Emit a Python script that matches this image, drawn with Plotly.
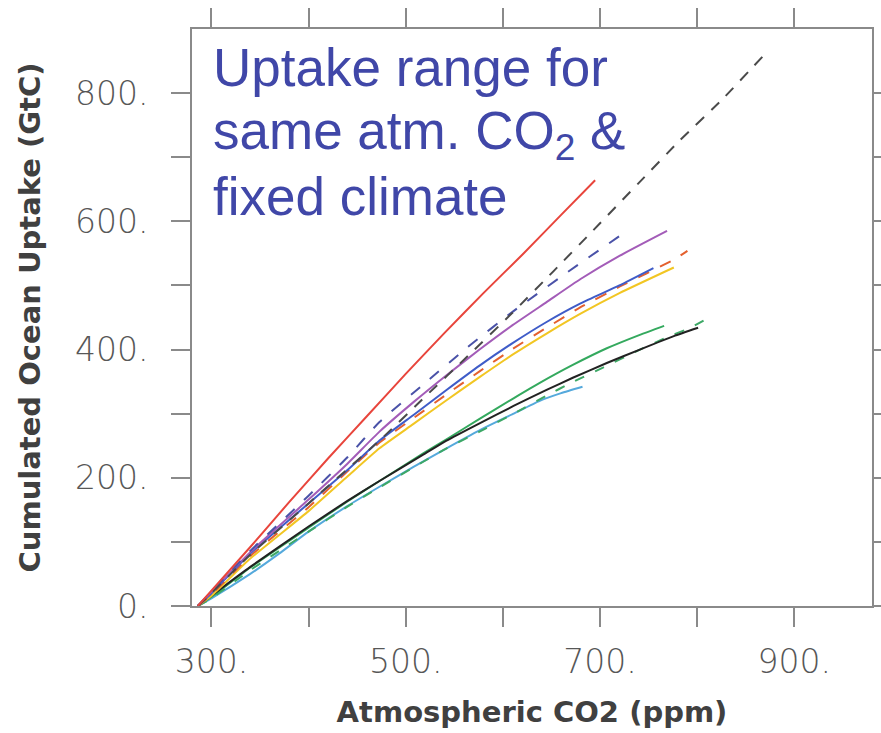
import plotly.graph_objects as go

# Atmospheric CO2 (ppm) vs cumulated ocean uptake (GtC) for each model run

red_co2 = [286, 300, 340, 380, 420, 460, 500, 540, 580, 620, 660, 695]
red_uptake = [0, 24, 92, 162, 230, 296, 362, 426, 488, 548, 610, 664]

blackdash_co2 = [286, 300, 340, 400, 473, 521, 564, 609, 652, 693, 740, 782, 827, 868]
blackdash_uptake = [0, 20, 80, 160, 258, 328, 390, 456, 522, 586, 660, 726, 792, 858]

navydash_co2 = [286, 300, 340, 400, 440, 473, 520, 564, 611, 664, 720]
navydash_uptake = [0, 22, 86, 172, 232, 287, 348, 404, 460, 518, 577]

purple_co2 = [286, 300, 340, 400, 440, 473, 508, 542, 576, 610, 645, 680, 720, 769]
purple_uptake = [0, 22, 84, 166, 222, 272, 318, 360, 400, 438, 474, 510, 546, 585]

blue_co2 = [286, 300, 340, 400, 440, 473, 508, 542, 576, 610, 645, 680, 720, 755]
blue_uptake = [0, 20, 82, 160, 212, 258, 298, 337, 375, 410, 443, 472, 500, 527]

yellow_co2 = [286, 300, 340, 400, 440, 473, 508, 542, 576, 610, 645, 680, 720, 776]
yellow_uptake = [0, 16, 74, 148, 202, 246, 284, 321, 357, 392, 425, 456, 488, 528]

orangedash_co2 = [286, 300, 340, 400, 440, 473, 508, 542, 576, 610, 645, 680, 720, 777, 790]
orangedash_uptake = [0, 18, 78, 154, 210, 255, 293, 330, 366, 401, 434, 466, 498, 541, 554]

green_co2 = [286, 300, 340, 400, 440, 473, 518, 542, 576, 611, 638, 672, 707, 741, 766]
green_uptake = [0, 14, 60, 122, 163, 195, 238, 260, 292, 324, 348, 376, 402, 423, 437]

black_co2 = [286, 300, 340, 400, 440, 473, 518, 542, 576, 611, 645, 672, 707, 741, 776, 801]
black_uptake = [0, 16, 61, 124, 164, 195, 236, 258, 285, 312, 337, 356, 379, 400, 421, 434]

greendash_co2 = [286, 300, 340, 400, 440, 473, 518, 542, 576, 616, 645, 670, 702, 740, 770, 793, 810]
greendash_uptake = [0, 12, 56, 116, 155, 185, 225, 246, 272, 304, 328, 348, 371, 399, 420, 434, 448]

cyan_co2 = [286, 300, 340, 370, 400, 439, 473, 508, 542, 576, 611, 638, 660, 682]
cyan_uptake = [0, 12, 50, 82, 116, 155, 186, 217, 246, 274, 300, 320, 332, 342]

# labelled ticks every 200, unlabelled ticks in between
x_ticks = [300, 500, 700, 900]
x_ticktext = ["300.", "500.", "700.", "900."]
x_minor = [400, 600, 800]
y_ticks = [0, 200, 400, 600, 800]
y_ticktext = ["0.", "200.", "400.", "600.", "800."]
y_minor = [100, 300, 500, 700]

note_lines = ["Uptake range for", "same atm. CO<sub>2</sub> &amp;", "fixed climate"]

series = [
    (cyan_co2, cyan_uptake, "#55A9DC", "solid"),
    (greendash_co2, greendash_uptake, "#3DA866", "10px,12px"),
    (green_co2, green_uptake, "#34A95E", "solid"),
    (black_co2, black_uptake, "#222222", "solid"),
    (yellow_co2, yellow_uptake, "#F2C623", "solid"),
    (orangedash_co2, orangedash_uptake, "#E4602E", "12px,12px"),
    (blue_co2, blue_uptake, "#3F5CC8", "solid"),
    (purple_co2, purple_uptake, "#A35CB8", "solid"),
    (navydash_co2, navydash_uptake, "#4A52A8", "12px,13px"),
    (blackdash_co2, blackdash_uptake, "#4A4A4A", "11px,10px"),
    (red_co2, red_uptake, "#E8453C", "solid"),
]

fig = go.Figure()
for xs, ys, color, dash in series:
    fig.add_trace(go.Scatter(
        x=xs, y=ys, mode="lines",
        line=dict(color=color, width=2, dash=dash, shape="spline", smoothing=0.5),
        showlegend=False, hoverinfo="skip",
    ))

tick_style = dict(ticks="outside", ticklen=19, tickwidth=2, tickcolor="#8a8a8a")

axis_common = dict(
    showline=True, linecolor="#8a8a8a", linewidth=2,
    mirror="ticks", showgrid=False, zeroline=False, automargin=False,
    tickfont=dict(family="DejaVu Sans", size=33, color="#575757", weight=300),
    **tick_style,
)

title_font = dict(family="DejaVu Sans", size=29, color="#404040", weight="bold")

# one annotation per text line so the line spacing can be set exactly
note_y = [0.933, 0.817, 0.710]
annotations = [
    dict(xref="paper", yref="paper", x=0.028, y=yy,
         xanchor="left", yanchor="middle", align="left", showarrow=False,
         text=line, font=dict(family="Liberation Sans", size=53, color="#4047A8"))
    for line, yy in zip(note_lines, note_y)
]

fig.update_layout(
    width=881, height=733,
    margin=dict(l=192, r=9, t=29, b=127),
    paper_bgcolor="white", plot_bgcolor="white",
    xaxis=dict(
        range=[280, 980], tickmode="array", tickvals=x_ticks, ticktext=x_ticktext,
        minor=dict(tickmode="array", tickvals=x_minor, showgrid=False, **tick_style),
        ticklabelstandoff=6,
        title=dict(text="Atmospheric CO2 (ppm)", standoff=22, font=title_font),
        **axis_common,
    ),
    yaxis=dict(
        range=[0, 900], tickmode="array", tickvals=y_ticks, ticktext=y_ticktext,
        minor=dict(tickmode="array", tickvals=y_minor, showgrid=False, **tick_style),
        ticklabelstandoff=16,
        title=dict(text="Cumulated Ocean Uptake (GtC)", standoff=26, font=title_font),
        **axis_common,
    ),
    annotations=annotations,
)

fig.write_html("out.html")
